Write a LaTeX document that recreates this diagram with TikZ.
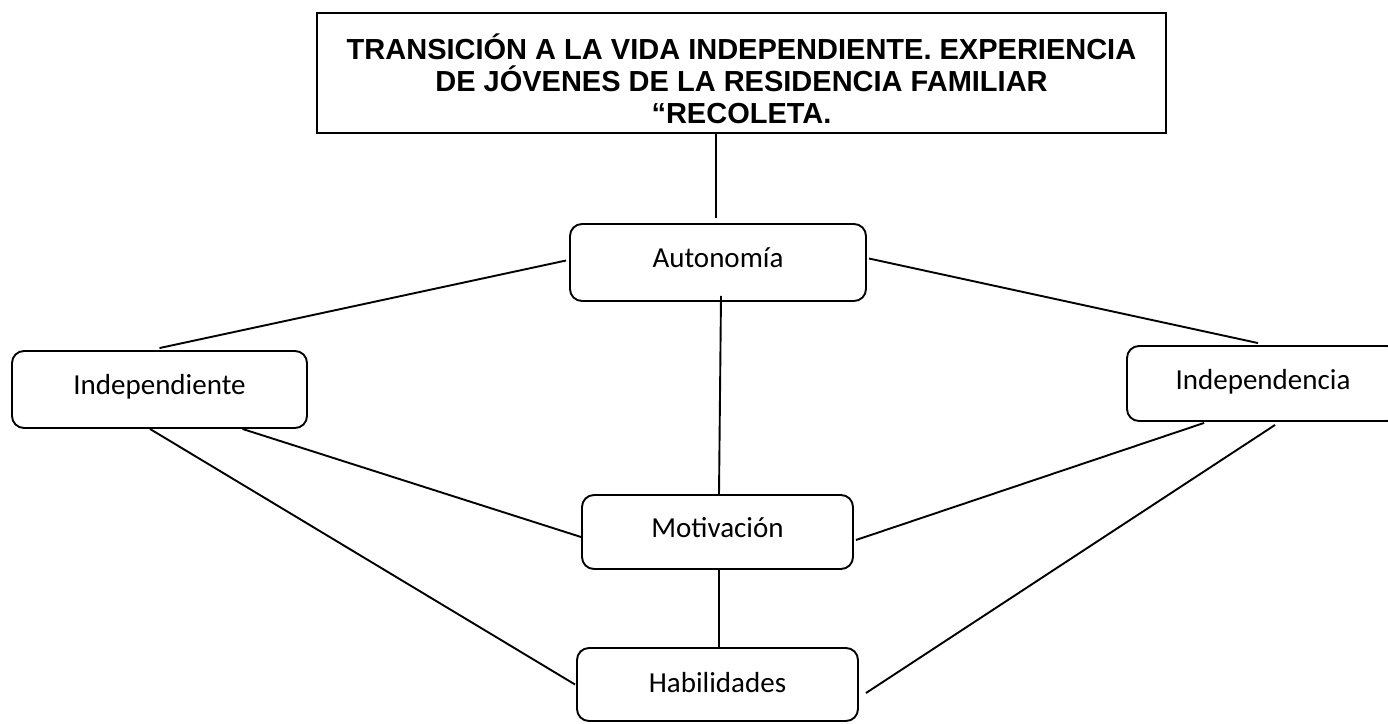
\documentclass[tikz,border=0pt]{standalone}
\usepackage{fontspec}
\setmainfont{Liberation Sans}
\newfontfamily\calib{Carlito}
\begin{document}
\begin{tikzpicture}[x=1pt,y=-1pt,
  box/.style={draw=black, line width=1.9pt, rounded corners=12pt, inner sep=0pt,
    font=\calib\fontsize{29}{34}\selectfont, text height=22pt, text depth=12pt, align=center},
  titlebox/.style={draw=black, line width=1.4pt, inner sep=0pt, align=center,
    font=\bfseries\fontsize{29}{32}\selectfont},
  conn/.style={line width=1.9pt, black}]
\useasboundingbox (0,0) rectangle (1388,723);
\clip (0,0) rectangle (1388,723);
\fill[white] (0,0) rectangle (1388,723);

\node[titlebox, minimum width=849pt, minimum height=120pt] (title) at (741.5,73)
  {\rule{0pt}{38pt}TRANSICIÓN A LA VIDA INDEPENDIENTE. EXPERIENCIA\\DE JÓVENES DE LA RESIDENCIA FAMILIAR\\“RECOLETA.};

\node[box, minimum width=296pt, minimum height=77pt] (auto) at (718,262.5) {Autonomía};
\node[box, minimum width=295pt, minimum height=77pt] (ind) at (159.5,389.5) {Independiente};
\node[box, minimum width=272pt, minimum height=75pt, text depth=10pt] (indc) at (1263,383.5) {Independencia};
\node[box, minimum width=271pt, minimum height=74pt] (moti) at (717.5,532) {Motivación};
\node[box, minimum width=281pt, minimum height=73pt, text depth=7pt] (habi) at (717.5,684.5) {Habilidades};

\coordinate (t1) at (716,218);
\coordinate (h1) at (866,693);

\draw[conn] (title.south -| t1) -- (t1);
\draw[conn] ([xshift=-3pt,yshift=2pt]auto.west) -- ([yshift=2pt]ind.north);
\draw[conn] ([xshift=2pt,yshift=4pt]auto.east) -- ([xshift=-5pt,yshift=2pt]indc.north);
\draw[conn] ([xshift=3pt,yshift=6pt]auto.south) -- ([xshift=1.5pt]moti.north);
\draw[conn] ([xshift=83pt]ind.south) -- ([yshift=-5pt]moti.west);
\draw[conn] ([xshift=-9.5pt]ind.south) -- ([xshift=-1pt]habi.west);
\draw[conn] ([xshift=-59pt,yshift=-1pt]indc.south) -- ([xshift=2pt,yshift=-8pt]moti.east);
\draw[conn] ([xshift=12pt,yshift=-3pt]indc.south) -- (h1);
\draw[conn] ([xshift=1.5pt]moti.south) -- ([xshift=1.5pt]habi.north);
\end{tikzpicture}
\end{document}
